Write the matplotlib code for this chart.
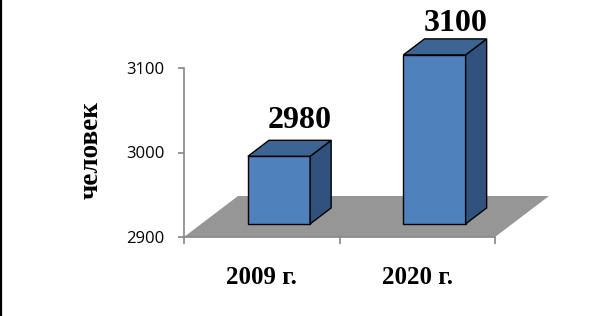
import matplotlib
matplotlib.use("Agg")
import matplotlib.pyplot as plt
from matplotlib.patches import Polygon
from matplotlib.lines import Line2D

categories = ["2009 г.", "2020 г."]
values = [2980, 3100]
yticks = [2900, 3000, 3100]
ylabel = "человек"

W, H = 605, 316
fig = plt.figure(figsize=(W / 100, H / 100), dpi=100)
ax = fig.add_axes([184 / W, 79 / H, 311 / W, 169 / H])
ax.set_xlim(-0.5, 1.5)
ax.set_ylim(2900, 3100)

# oblique depth vector (data units)
DX, DY = 0.347, 48.5
d0, d1 = 0.32, 0.71
half = 0.2

front_c = "#4F81BD"
side_c = "#31527D"
top_c = "#3C6594"
floor_c = "#969696"
axis_c = "#868686"

# floor
floor = Polygon([(-0.5, 2900), (1.5, 2900), (1.5 + DX, 2900 + DY), (-0.5 + DX, 2900 + DY)],
                closed=True, facecolor=floor_c, edgecolor="none", clip_on=False, zorder=1)
ax.add_patch(floor)

label_offsets = [9.0, 6.0]
for i, v in enumerate(values):
    xl = i - half + d0 * DX
    xr = i + half + d0 * DX
    yb = 2900 + d0 * DY
    yt = v + d0 * DY
    ddx = (d1 - d0) * DX
    ddy = (d1 - d0) * DY
    front = Polygon([(xl, yb), (xr, yb), (xr, yt), (xl, yt)], closed=True,
                    facecolor=front_c, edgecolor="black", linewidth=1.0, clip_on=False, zorder=3)
    side = Polygon([(xr, yb), (xr + ddx, yb + ddy), (xr + ddx, yt + ddy), (xr, yt)], closed=True,
                   facecolor=side_c, edgecolor="black", linewidth=1.0, clip_on=False, zorder=3)
    top = Polygon([(xl, yt), (xr, yt), (xr + ddx, yt + ddy), (xl + ddx, yt + ddy)], closed=True,
                  facecolor=top_c, edgecolor="black", linewidth=1.0, clip_on=False, zorder=3)
    for p in (front, side, top):
        ax.add_patch(p)
    ax.annotate(str(v), xy=(i + d1 * DX, yt + ddy), xytext=(0, label_offsets[i]), textcoords="offset points",
                ha="center", va="baseline", fontsize=23, fontweight="bold",
                family="Liberation Serif", annotation_clip=False, zorder=5)
    ax.annotate(categories[i], xy=(i, 0), xycoords=("data", "axes fraction"),
                xytext=(0, -29.5), textcoords="offset points",
                ha="center", va="center", fontsize=18, fontweight="bold",
                family="Liberation Serif", annotation_clip=False)

# axes styling
for s in ("top", "right"):
    ax.spines[s].set_visible(False)
ax.spines["left"].set_color(axis_c)
ax.spines["bottom"].set_color(axis_c)
ax.spines["left"].set_linewidth(1.2)
ax.spines["bottom"].set_linewidth(1.2)
ax.spines["left"].set_zorder(0.5)
ax.patch.set_visible(False)

ax.set_yticks(yticks)
ax.set_yticklabels([str(t) for t in yticks], fontsize=12, family="Open Sans")
ax.tick_params(axis="y", length=4.3, width=1.2, color=axis_c, pad=9.5)
ax.set_xticks([-0.5, 0.5, 1.5])
ax.set_xticklabels([])
ax.tick_params(axis="x", length=5, width=1.2, color=axis_c)

fig.text(91 / W, 1 - 150 / H, ylabel, rotation=90, ha="center", va="center",
         fontsize=19.5, fontweight="bold", family="Liberation Serif")

fig.add_artist(Line2D([1 / W, 1 / W], [0, 1], color="black", linewidth=1.6, transform=fig.transFigure))

fig.savefig("out.png", dpi=100, facecolor="white")
